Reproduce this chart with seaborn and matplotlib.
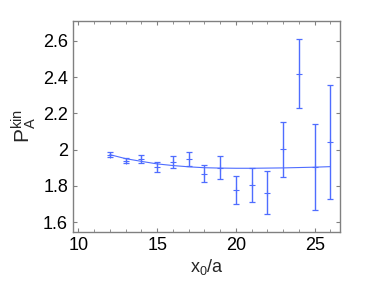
import numpy as np
import pandas as pd
import matplotlib
matplotlib.use("Agg")
import matplotlib.pyplot as plt
import seaborn as sns
from matplotlib.ticker import MultipleLocator, FuncFormatter

# data
x0 = [12, 13, 14, 15, 16, 17, 18, 19, 20, 21, 22, 23, 24, 25, 26]
p_kin = [1.971, 1.939, 1.948, 1.904, 1.930, 1.947, 1.868, 1.899, 1.779, 1.806,
         1.763, 2.002, 2.419, 1.905, 2.041]
p_err = [0.013, 0.015, 0.020, 0.026, 0.032, 0.040, 0.047, 0.063, 0.077, 0.095,
         0.117, 0.151, 0.189, 0.237, 0.316]
fit_x = [12, 13, 14, 15, 16, 17, 18, 19, 20, 21, 22, 23, 24, 25, 26]
fit_y = [1.972, 1.950, 1.935, 1.921, 1.912, 1.905, 1.900, 1.898, 1.897, 1.897,
         1.898, 1.899, 1.901, 1.903, 1.906]

sns.set_style("ticks")
plt.rcParams['font.family'] = ['Liberation Sans', 'DejaVu Sans']
plt.rcParams['mathtext.fontset'] = 'custom'
plt.rcParams['mathtext.rm'] = 'Liberation Sans'
plt.rcParams['mathtext.it'] = 'Liberation Sans'

blue = "#4f6dff"
df_fit = pd.DataFrame({"x": fit_x, "y": fit_y})

fig = plt.figure(figsize=(3.76, 2.82), dpi=100)
ax = fig.add_axes([0.194, 0.177, 0.710, 0.749])

sns.lineplot(data=df_fit, x="x", y="y", ax=ax, color=blue, linewidth=0.8)
eb = ax.errorbar(x0, p_kin, yerr=p_err, fmt="none", ecolor=blue,
                 elinewidth=1.0, capsize=2, capthick=0.9)
sns.scatterplot(x=x0, y=p_kin, ax=ax, marker="+", color=blue, s=18, linewidth=0.8)

ax.set_xlim(9.65, 26.6)
ax.set_ylim(1.545, 2.71)
ax.xaxis.set_major_locator(MultipleLocator(5))
ax.xaxis.set_minor_locator(MultipleLocator(1))
ax.yaxis.set_major_locator(MultipleLocator(0.2))
ax.yaxis.set_major_formatter(FuncFormatter(lambda v, p: ("%.1f" % v).rstrip("0").rstrip(".")))

ax.tick_params(which="both", direction="in", top=True, right=True, colors="#808080",
               labelcolor="black", labelsize=13)
ax.tick_params(which="major", length=3, width=0.8)
ax.tick_params(which="minor", length=2, width=0.6)
for s in ax.spines.values():
    s.set_color("#808080")
    s.set_linewidth(1.0)

ax.set_xlabel(r"x$_0$/a", fontsize=13, labelpad=2)
ax.set_ylabel(r"P$_\mathrm{A}^\mathrm{kin}$", fontsize=15, labelpad=4)

plt.savefig("out.png", dpi=100)
